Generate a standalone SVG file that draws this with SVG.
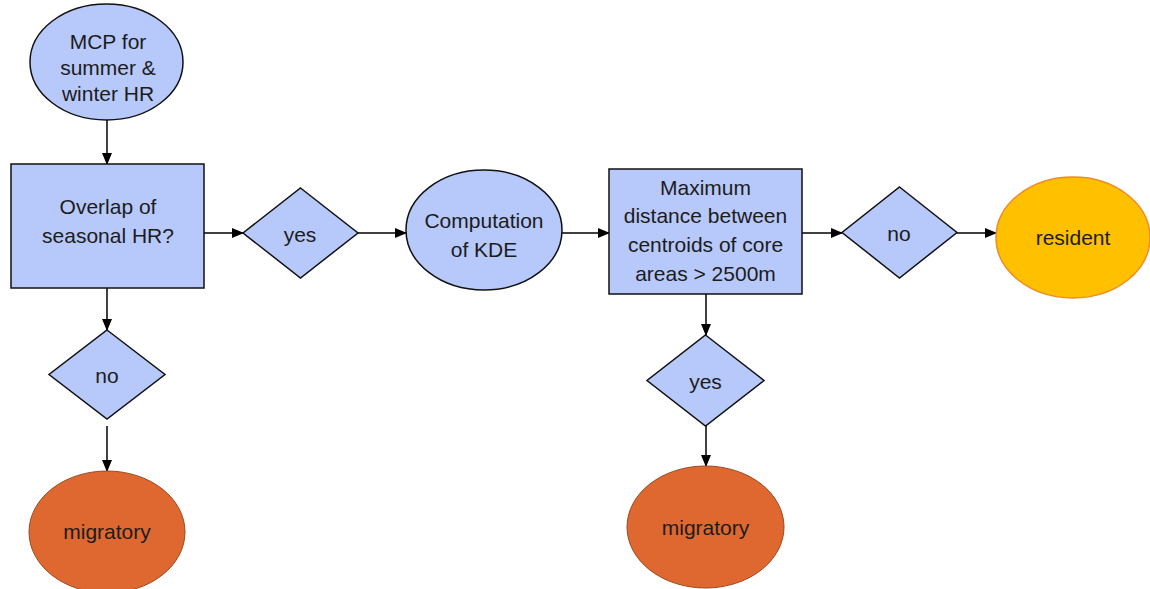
<svg xmlns="http://www.w3.org/2000/svg" width="1150" height="589" viewBox="0 0 1150 589">
<style>
.blue{fill:#B7C8FA;stroke:#111;stroke-width:1.5}
.orange{fill:#DF6830;stroke:#9A4A20;stroke-width:1}
.gold{fill:#FFC000;stroke:#F08A24;stroke-width:1.5}
.t{font-family:"Liberation Sans",Arial,sans-serif;font-size:21px;fill:#1c1c1c;text-anchor:middle}
.c line{stroke:#000;stroke-width:1.5;marker-end:url(#ah)}
</style>
<defs>
<marker id="ah" markerWidth="12" markerHeight="12" refX="11" refY="6" orient="auto" markerUnits="userSpaceOnUse">
<path d="M0,1 L12,6 L0,11 Z" fill="#000"/>
</marker>
</defs>
<rect width="1150" height="589" fill="#fff"/>
<g class="c" id="connectors">
<line x1="107" y1="120" x2="107" y2="164"/>
<line x1="107" y1="288" x2="107" y2="330"/>
<line x1="107" y1="426" x2="107" y2="471"/>
<line x1="204" y1="233" x2="243" y2="233"/>
<line x1="358" y1="233" x2="406" y2="233"/>
<line x1="562" y1="233" x2="609" y2="233"/>
<line x1="802" y1="233" x2="842" y2="233"/>
<line x1="957" y1="233" x2="996" y2="233"/>
<line x1="706" y1="294" x2="706" y2="335"/>
<line x1="706" y1="426" x2="706" y2="466"/>
</g>
<g id="mcp">
<ellipse class="blue" cx="106.5" cy="62" rx="76.5" ry="58"/>
<text class="t" x="108" y="49">MCP for</text>
<text class="t" x="108" y="75">summer &amp;</text>
<text class="t" x="108" y="101">winter HR</text>
</g>
<g id="overlap">
<rect class="blue" x="11" y="164" width="193" height="124"/>
<text class="t" x="108" y="214">Overlap of</text>
<text class="t" x="108" y="243">seasonal HR?</text>
</g>
<g id="no1">
<polygon class="blue" points="107,330 165,374.5 107,419 49,374.5"/>
<text class="t" x="107" y="383">no</text>
</g>
<g id="migratory1">
<ellipse class="orange" cx="107" cy="532" rx="78" ry="61"/>
<text class="t" x="107" y="539">migratory</text>
</g>
<g id="yes1">
<polygon class="blue" points="300.5,188 358,233 300.5,278 243,233"/>
<text class="t" x="300" y="242">yes</text>
</g>
<g id="kde">
<ellipse class="blue" cx="484" cy="230" rx="78" ry="60"/>
<text class="t" x="484" y="228">Computation</text>
<text class="t" x="484" y="257">of KDE</text>
</g>
<g id="maxdist">
<rect class="blue" x="609" y="169" width="193" height="125"/>
<text class="t" x="705.5" y="195">Maximum</text>
<text class="t" x="705.5" y="223">distance between</text>
<text class="t" x="705.5" y="252">centroids of core</text>
<text class="t" x="705.5" y="281">areas &gt; 2500m</text>
</g>
<g id="no2">
<polygon class="blue" points="899.5,187 957,232.5 899.5,278 842,232.5"/>
<text class="t" x="899" y="241">no</text>
</g>
<g id="resident">
<ellipse class="gold" cx="1073" cy="237.5" rx="77" ry="60.5"/>
<text class="t" x="1073" y="245">resident</text>
</g>
<g id="yes2">
<polygon class="blue" points="705.5,335 764,380.5 705.5,426 647,380.5"/>
<text class="t" x="705.5" y="389">yes</text>
</g>
<g id="migratory2">
<ellipse class="orange" cx="705.5" cy="527" rx="78.5" ry="61"/>
<text class="t" x="705.5" y="535">migratory</text>
</g>
</svg>
